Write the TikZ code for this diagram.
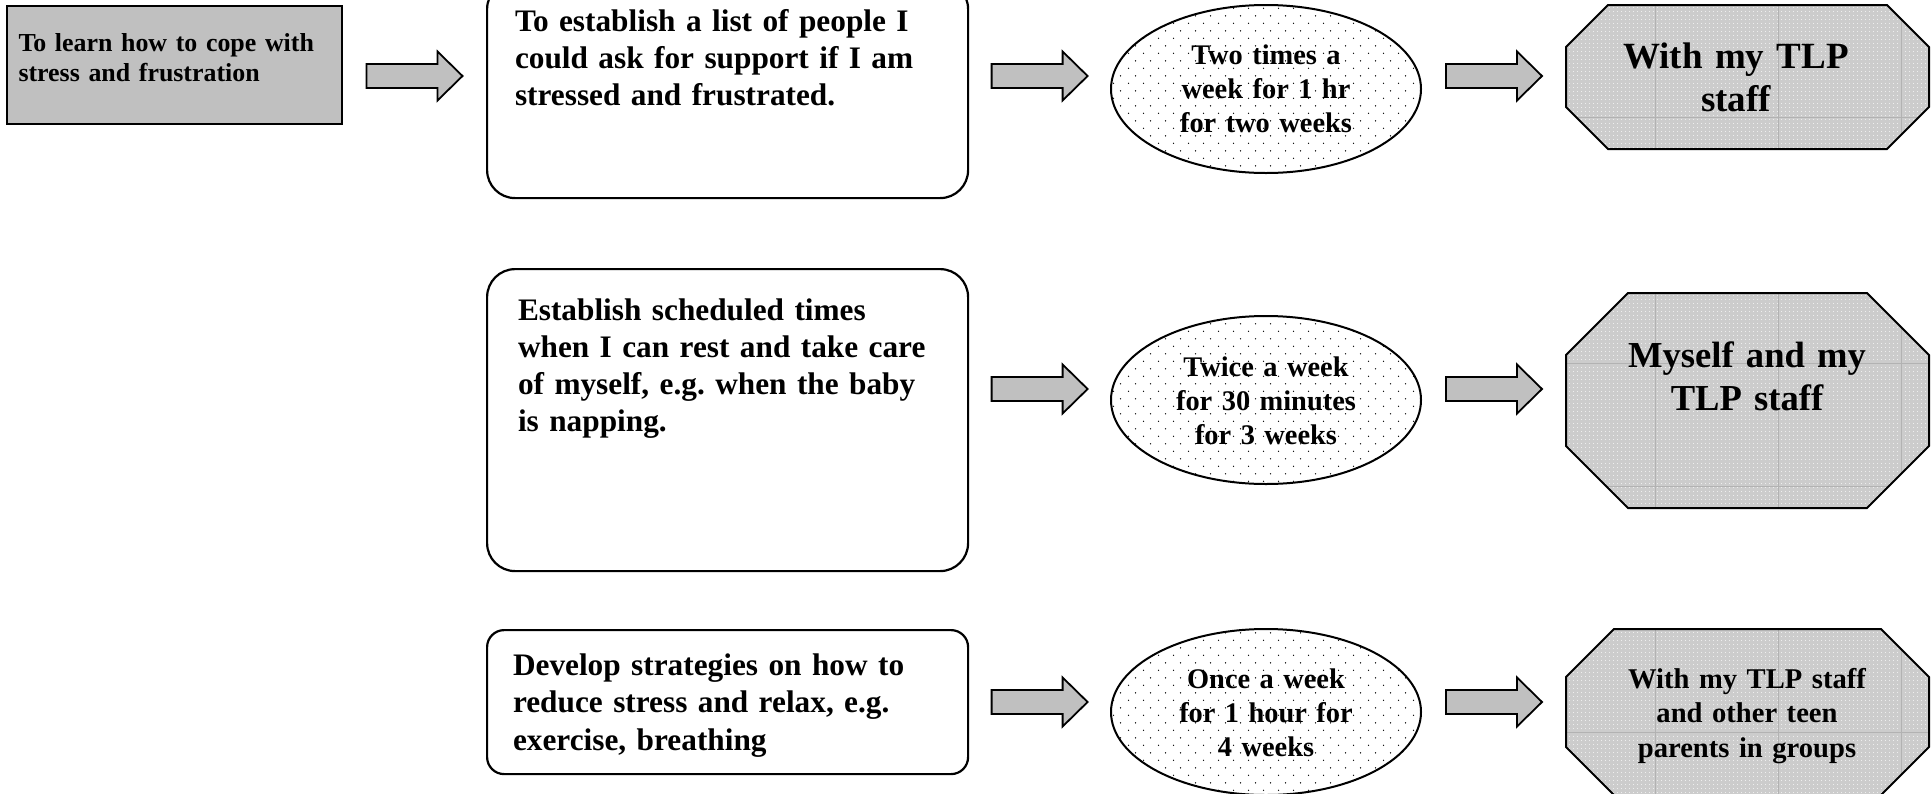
\documentclass[tikz,border=0pt]{standalone}
\usepackage{fontspec}
\setmainfont{Liberation Serif}
\usetikzlibrary{patterns.meta,shapes.geometric,calc}

\definecolor{boxgray}{RGB}{192,192,192}
\definecolor{octgray}{RGB}{204,204,204}
\definecolor{gridgray}{RGB}{178,178,178}

\tikzdeclarepattern{name=edots, type=uncolored,
  bounding box={(0pt,0pt) and (15pt,15.4pt)}, tile size={(15pt,15.4pt)},
  code={\fill (3.75pt,3.85pt) circle (0.75pt); \fill (11.25pt,11.55pt) circle (0.75pt);}}
\tikzdeclarepattern{name=odots, type=uncolored,
  bounding box={(0pt,0pt) and (4pt,4pt)}, tile size={(4pt,4pt)},
  code={\fill (2pt,2pt) circle (0.6pt);}}

\newcommand\fsz[2]{\fontsize{#1}{#2}\selectfont\bfseries}

\tikzset{
  txt/.style={inner sep=0, outer sep=0, text=black},
  goalbox/.style={draw, fill=boxgray, line width=2, inner sep=0, anchor=north west},
  rbox/.style={draw, fill=white, line width=2.2, inner sep=0, anchor=north west, rounded corners=28},
  ell/.style={ellipse, draw, line width=2, inner sep=0, pattern={edots}, pattern color=black},
  octnode/.style={inner sep=0, outer sep=0, anchor=north west},
  blockarrow/.style={draw, fill=boxgray, line width=1.8, line join=miter},
}

% block arrow centred between two named nodes, at image height #3
\newcommand\barrow[3]{%
  \path let \p1=($(#1.east)!0.5!(#2.west)$) in coordinate (#1-#2) at (\x1,#3);
  \draw[blockarrow] ([shift={(-48,-12)}]#1-#2) -- ([shift={(23,-12)}]#1-#2)
    -- ([shift={(23,-24.5)}]#1-#2) -- ([shift={(48,0)}]#1-#2)
    -- ([shift={(23,24.5)}]#1-#2) -- ([shift={(23,12)}]#1-#2)
    -- ([shift={(-48,12)}]#1-#2) -- cycle;}

% octagon: name, x1, y1, x2, y2, chamfer
\newcommand\octagon[6]{%
  \node[octnode, minimum width=#4-#2, minimum height=#5-#3] (#1) at (#2,#3) {};
  \begin{scope}
    \clip (#2+#6,#3) -- (#4-#6,#3) -- (#4,#3+#6) -- (#4,#5-#6) -- (#4-#6,#5)
      -- (#2+#6,#5) -- (#2,#5-#6) -- (#2,#3+#6) -- cycle;
    \fill[octgray] (#2,#3) rectangle (#4,#5);
    \fill[pattern=odots, pattern color=white!92!octgray] (#2,#3) rectangle (#4,#5);
    \foreach \gx in {1532,1655,1778,1901}
      \draw[gridgray, line width=0.8] (\gx,#3) -- (\gx,#5);
    \foreach \gy in {117,240,363,486,609,732}
      \draw[gridgray, line width=0.8] (#2,\gy) -- (#4,\gy);
  \end{scope}
  \draw[line width=2, line join=miter] (#2+#6,#3) -- (#4-#6,#3) -- (#4,#3+#6)
    -- (#4,#5-#6) -- (#4-#6,#5) -- (#2+#6,#5) -- (#2,#5-#6) -- (#2,#3+#6) -- cycle;}

\begin{document}
\begin{tikzpicture}[x=1pt, y=-1pt]
\useasboundingbox (0,0) rectangle (1931,793);
\fill[white] (0,0) rectangle (1931,793);

% goal box with slight shadow
\fill[black!80] (7.5,6.5) rectangle (342.5,124.5);
\node[goalbox, minimum width=335, minimum height=118] (goal) at (6,5) {};

% step boxes
\node[rbox, minimum width=481, minimum height=217] (s1) at (486,-20) {};
\node[rbox, minimum width=481, minimum height=302] (s2) at (486,268) {};
\node[rbox, rounded corners=17, minimum width=481, minimum height=144] (s3) at (486,629) {};

% time ellipses
\node[ell, minimum width=310, minimum height=168] (e1) at (1266,89) {};
\node[ell, minimum width=310, minimum height=168] (e2) at (1266,400) {};
\node[ell, minimum width=310, minimum height=166] (e3) at (1266,712) {};

% who octagons
\octagon{o1}{1566}{5}{1929}{149}{42}
\octagon{o2}{1566}{293}{1929}{508}{62}
\octagon{o3}{1566}{629}{1929}{795}{48}

% block arrows
\barrow{goal}{s1}{76}
\barrow{s1}{e1}{76}
\barrow{e1}{o1}{76}
\barrow{s2}{e2}{389}
\barrow{e2}{o2}{389}
\barrow{s3}{e3}{702}
\barrow{e3}{o3}{702}

% texts
\node[txt, anchor=base west, text width=330, align=left, font=\fsz{25.9}{30.5}] (goalt) at (18.5,51)
  {To learn how to cope with\\stress and frustration};

\node[txt, anchor=base west, text width=440, align=left, font=\fsz{31.3}{37}] (s1t) at (515,31)
  {To establish a list of people I\\could ask for support if I am\\stressed and frustrated.};
\node[txt, anchor=base west, text width=440, align=left, font=\fsz{31.3}{37.2}] (s2t) at (518,320)
  {Establish scheduled times\\when I can rest and take care\\of myself, e.g.\ when the baby\\is napping.};
\node[txt, anchor=base west, text width=440, align=left, font=\fsz{31.3}{37.5}] (s3t) at (513,675)
  {Develop strategies on how to\\reduce stress and relax, e.g.\\exercise, breathing};

\node[txt, anchor=base, text width=300, align=center, font=\fsz{28.4}{34}] (e1t) at (1266,64)
  {Two times a\\week for 1 hr\\for two weeks};
\node[txt, anchor=base, text width=300, align=center, font=\fsz{28.4}{34}] (e2t) at (1266,376)
  {Twice a week\\for 30 minutes\\for 3 weeks};
\node[txt, anchor=base, text width=300, align=center, font=\fsz{28.4}{34}] (e3t) at (1266,688)
  {Once a week\\for 1 hour for\\4 weeks};

\node[txt, anchor=base, text width=350, align=center, font=\fsz{37}{43}] (o1t) at (1736,68)
  {With my TLP\\staff};
\node[txt, anchor=base, text width=350, align=center, font=\fsz{36.6}{43}] (o2t) at (1747,367)
  {Myself and my\\TLP staff};
\node[txt, anchor=base, text width=350, align=center, font=\fsz{28.6}{34.5}] (o3t) at (1747,688)
  {With my TLP staff\\and other teen\\parents in groups};
\end{tikzpicture}
\end{document}
